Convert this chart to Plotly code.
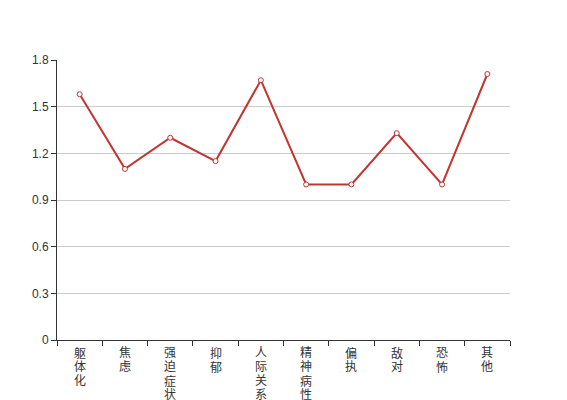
import plotly.graph_objects as go

categories = ["躯体化", "焦虑", "强迫症状", "抑郁", "人际关系敏感", "精神病性", "偏执", "敌对", "恐怖", "其他"]
values = [1.58, 1.10, 1.30, 1.15, 1.67, 1.00, 1.00, 1.33, 1.00, 1.71]
y_ticks = [0, 0.3, 0.6, 0.9, 1.2, 1.5, 1.8]

FONT = "Liberation Sans, Noto Sans CJK SC, sans-serif"

fig = go.Figure()
fig.add_trace(go.Scatter(
    x=categories, y=values, mode="lines+markers",
    line=dict(color="#c23531", width=2),
    marker=dict(symbol="circle", size=5, color="white",
                line=dict(color="#c23531", width=1)),
    showlegend=False, cliponaxis=False,
))

# vertical category labels, one character per line (14px line step)
for cat in categories:
    for i, ch in enumerate(cat):
        fig.add_annotation(
            x=cat, xref="x", y=0, yref="paper",
            text=ch, showarrow=False,
            xanchor="center", yanchor="middle",
            yshift=-(13 + 14 * i),
            font=dict(family=FONT, size=12, color="#333"),
        )

fig.update_layout(
    width=567, height=400,
    margin=dict(l=49, r=65, t=52, b=68),
    paper_bgcolor="white", plot_bgcolor="white",
    font=dict(family=FONT, size=12, color="#333"),
    xaxis=dict(
        type="category", categoryorder="array", categoryarray=categories,
        range=[-0.5, 9.5], tickson="boundaries", automargin=False,
        showticklabels=False,
        ticks="outside", ticklen=5, tickcolor="#333",
        showline=True, linecolor="#333", linewidth=1,
        showgrid=False, zeroline=False,
    ),
    yaxis=dict(
        range=[0, 1.8], tickmode="array", tickvals=y_ticks,
        ticktext=[("%g" % v) for v in y_ticks], automargin=False,
        ticks="outside", ticklen=5, tickcolor="#333",
        showline=True, linecolor="#333", linewidth=1,
        showgrid=True, gridcolor="#ccc", gridwidth=1,
        zeroline=False,
        tickfont=dict(size=12, color="#333"),
    ),
)
fig.write_html("out.html")
